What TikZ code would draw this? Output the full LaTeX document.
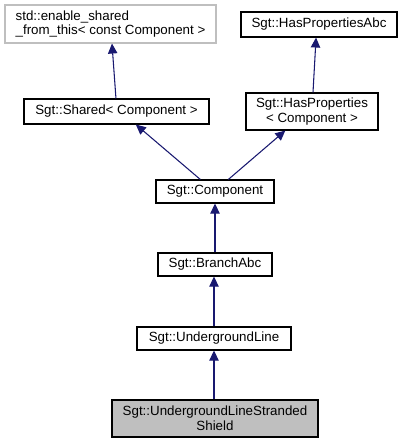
\documentclass[tikz,border=0pt]{standalone}
\usepackage{fontspec}
\setmainfont{Liberation Sans}
\usetikzlibrary{arrows.meta}
\definecolor{edgeblue}{HTML}{191970}
\definecolor{graybox}{HTML}{BFBFBF}
\tikzset{
  cls/.style={draw=black, line width=0.8pt, fill=white, rectangle, inner sep=0pt, font=\fontsize{10}{11}\selectfont, align=center},
  ext/.style={cls, draw=graybox, align=left},
  cur/.style={cls, fill=graybox},
  inh/.style={draw=edgeblue, line width=0.8pt, -{Triangle[length=7.5pt,width=7pt]}}
}
\begin{document}
\begin{tikzpicture}[x=0.75pt,y=-0.75pt]
\useasboundingbox (0,0) rectangle (402,443);
\node[ext, minimum width=211*0.75pt, minimum height=38*0.75pt] (esft) at (110.5,24) {std::enable\_shared\\\_from\_this< const Component >};
\node[cls, minimum width=156*0.75pt, minimum height=25*0.75pt] (hpabc) at (319,24.5) {Sgt::HasPropertiesAbc};
\node[cls, minimum width=185*0.75pt, minimum height=25*0.75pt] (shared) at (116.5,111.5) {Sgt::Shared< Component >};
\node[cls, minimum width=132*0.75pt, minimum height=37*0.75pt] (hp) at (312,111.5) {Sgt::HasProperties\\< Component >};
\node[cls, minimum width=118*0.75pt, minimum height=23*0.75pt] (comp) at (215,191.5) {Sgt::Component};
\node[cls, minimum width=114*0.75pt, minimum height=23*0.75pt] (branch) at (215,264.5) {Sgt::BranchAbc};
\node[cls, minimum width=154*0.75pt, minimum height=23*0.75pt] (ul) at (214,338.5) {Sgt::UndergroundLine};
\node[cur, minimum width=206*0.75pt, minimum height=37*0.75pt] (ulss) at (215,418.5) {Sgt::UndergroundLineStranded\\Shield};
\draw[inh] ([xshift=-0.4pt]shared.north) -- ([xshift=1.1pt]esft.south);
\draw[inh] ([xshift=0.75pt]hp.north) -- ([xshift=-2.2pt]hpabc.south);
\draw[inh] ([xshift=-11pt]comp.north) -- ([xshift=14.5pt]shared.south);
\draw[inh] ([xshift=10pt]comp.north) -- ([xshift=-20pt]hp.south);
\draw[inh] (branch.north) -- (comp.south);
\draw[inh] (ul.north) -- (ul.north |- branch.south);
\draw[inh] (ulss.north -| ul.south) -- (ul.south);
\end{tikzpicture}
\end{document}
